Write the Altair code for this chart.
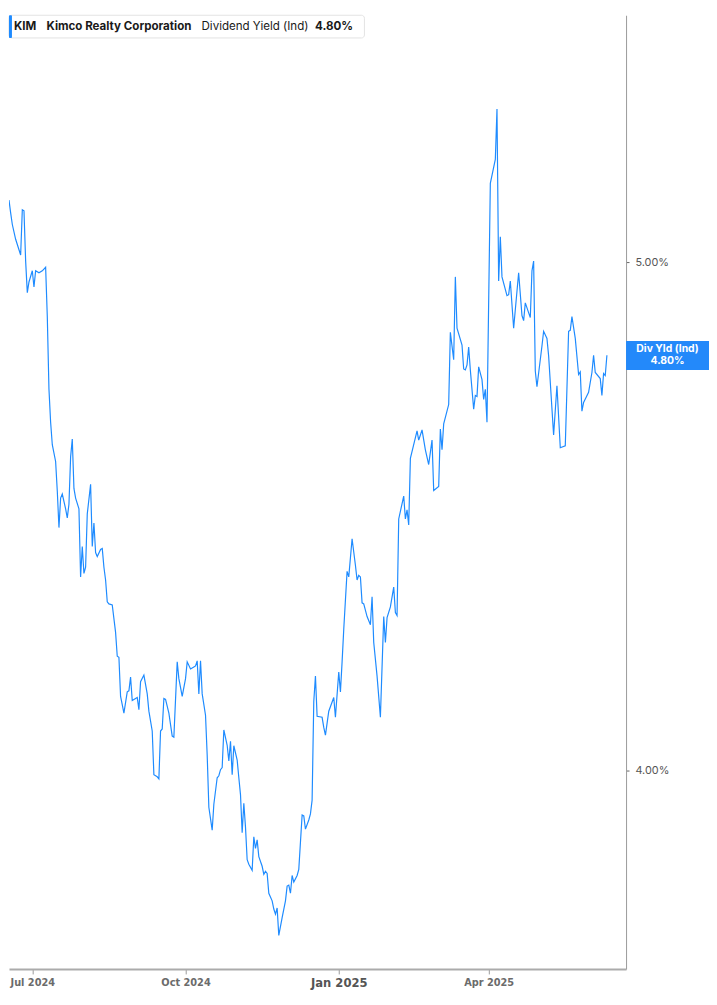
import altair as alt
import pandas as pd

# ---- data ----
dates = [
    "2024-06-17", "2024-06-18", "2024-06-19", "2024-06-21", "2024-06-24", "2024-06-25", "2024-06-26",
    "2024-06-27", "2024-06-28", "2024-06-29",
    "2024-07-01", "2024-07-02", "2024-07-03", "2024-07-05", "2024-07-07", "2024-07-09", "2024-07-10",
    "2024-07-11", "2024-07-12", "2024-07-13", "2024-07-15", "2024-07-16", "2024-07-17", "2024-07-18",
    "2024-07-19", "2024-07-21", "2024-07-22", "2024-07-23", "2024-07-24", "2024-07-25", "2024-07-26",
    "2024-07-27", "2024-07-29", "2024-07-30", "2024-07-31",
    "2024-08-01", "2024-08-02", "2024-08-03", "2024-08-05", "2024-08-06", "2024-08-07", "2024-08-08",
    "2024-08-09", "2024-08-11", "2024-08-12", "2024-08-13", "2024-08-14", "2024-08-15", "2024-08-16",
    "2024-08-18", "2024-08-20", "2024-08-21", "2024-08-22", "2024-08-23", "2024-08-24", "2024-08-25",
    "2024-08-27", "2024-08-28", "2024-08-29", "2024-08-30", "2024-08-31",
    "2024-09-02", "2024-09-03", "2024-09-04", "2024-09-06", "2024-09-08", "2024-09-09", "2024-09-11",
    "2024-09-12", "2024-09-14", "2024-09-15", "2024-09-16", "2024-09-17", "2024-09-18", "2024-09-19",
    "2024-09-21", "2024-09-23", "2024-09-24", "2024-09-26", "2024-09-27", "2024-09-29",
    "2024-10-01", "2024-10-02", "2024-10-04", "2024-10-06", "2024-10-07", "2024-10-08", "2024-10-09",
    "2024-10-10", "2024-10-11", "2024-10-13", "2024-10-14", "2024-10-15", "2024-10-17", "2024-10-18",
    "2024-10-20", "2024-10-21", "2024-10-22", "2024-10-23", "2024-10-24", "2024-10-26", "2024-10-27",
    "2024-10-28", "2024-10-29", "2024-10-30",
    "2024-11-01", "2024-11-02", "2024-11-03", "2024-11-04", "2024-11-05", "2024-11-06", "2024-11-07",
    "2024-11-08", "2024-11-10", "2024-11-11", "2024-11-12", "2024-11-13", "2024-11-14", "2024-11-16",
    "2024-11-17", "2024-11-18", "2024-11-19", "2024-11-20", "2024-11-22", "2024-11-23", "2024-11-24",
    "2024-11-25", "2024-11-26", "2024-11-28", "2024-11-30",
    "2024-12-01", "2024-12-02", "2024-12-03", "2024-12-04", "2024-12-05", "2024-12-07", "2024-12-08",
    "2024-12-10", "2024-12-11", "2024-12-12", "2024-12-14", "2024-12-15", "2024-12-16", "2024-12-17",
    "2024-12-18", "2024-12-19", "2024-12-22", "2024-12-23", "2024-12-24", "2024-12-26", "2024-12-29",
    "2024-12-30",
    "2025-01-01", "2025-01-02", "2025-01-03", "2025-01-04", "2025-01-06", "2025-01-07", "2025-01-09",
    "2025-01-11", "2025-01-12", "2025-01-13", "2025-01-14", "2025-01-15", "2025-01-16", "2025-01-18",
    "2025-01-20", "2025-01-21", "2025-01-22", "2025-01-24", "2025-01-26", "2025-01-28", "2025-01-29",
    "2025-01-30",
    "2025-02-01", "2025-02-03", "2025-02-04", "2025-02-05", "2025-02-06", "2025-02-09", "2025-02-10",
    "2025-02-11", "2025-02-12", "2025-02-13", "2025-02-17", "2025-02-18", "2025-02-20", "2025-02-22",
    "2025-02-24", "2025-02-26", "2025-02-27",
    "2025-03-02", "2025-03-03", "2025-03-04", "2025-03-05", "2025-03-08", "2025-03-09", "2025-03-11",
    "2025-03-12", "2025-03-13", "2025-03-16", "2025-03-17", "2025-03-18", "2025-03-19", "2025-03-20",
    "2025-03-21", "2025-03-23", "2025-03-24", "2025-03-25", "2025-03-26", "2025-03-28", "2025-03-29",
    "2025-03-30", "2025-03-31",
    "2025-04-02", "2025-04-05", "2025-04-06", "2025-04-07", "2025-04-08", "2025-04-09", "2025-04-12",
    "2025-04-13", "2025-04-14", "2025-04-16", "2025-04-19", "2025-04-21", "2025-04-22", "2025-04-23",
    "2025-04-26", "2025-04-27", "2025-04-28", "2025-04-29", "2025-04-30",
    "2025-05-03", "2025-05-04", "2025-05-06", "2025-05-07", "2025-05-10", "2025-05-12", "2025-05-14",
    "2025-05-17", "2025-05-19", "2025-05-20", "2025-05-21", "2025-05-23", "2025-05-25", "2025-05-26",
    "2025-05-27", "2025-05-28", "2025-05-31",
    "2025-06-02", "2025-06-03", "2025-06-04", "2025-06-07", "2025-06-08", "2025-06-09", "2025-06-10",
    "2025-06-11",
]

div_yield = [
    5.122, 5.097, 5.074, 5.045, 5.014, 5.103, 5.101,
    5.002, 4.940, 4.961,
    4.983, 4.951, 4.983, 4.979, 4.983, 4.990, 4.893,
    4.750, 4.685, 4.641, 4.608, 4.550, 4.478, 4.536,
    4.544, 4.515, 4.497, 4.524, 4.617, 4.652, 4.555,
    4.536, 4.515, 4.381, 4.441,
    4.388, 4.400, 4.505, 4.563, 4.441, 4.487, 4.429,
    4.421, 4.435, 4.437, 4.400, 4.375, 4.332, 4.328,
    4.326, 4.272, 4.225, 4.223, 4.146, 4.130, 4.113,
    4.155, 4.157, 4.184, 4.138, 4.140,
    4.144, 4.120, 4.175, 4.188, 4.151, 4.117, 4.078,
    3.992, 3.988, 3.984, 4.078, 4.082, 4.142, 4.140,
    4.113, 4.068, 4.066, 4.214, 4.181, 4.146,
    4.181, 4.214, 4.200, 4.204, 4.206, 4.216, 4.151,
    4.216, 4.151, 4.109, 4.031, 3.928, 3.883, 3.934,
    3.986, 3.990, 4.002, 4.006, 4.080, 4.050, 4.019,
    4.058, 3.992, 4.049,
    4.021, 3.986, 3.953, 3.878, 3.936, 3.889, 3.825,
    3.816, 3.804, 3.870, 3.847, 3.864, 3.831, 3.812,
    3.796, 3.802, 3.798, 3.759, 3.744, 3.728, 3.718,
    3.730, 3.676, 3.711, 3.744,
    3.773, 3.775, 3.759, 3.794, 3.781, 3.794, 3.806,
    3.913, 3.911, 3.885, 3.903, 3.915, 3.942, 4.136,
    4.186, 4.107, 4.105, 4.085, 4.070, 4.117, 4.144,
    4.105,
    4.194, 4.155, 4.214, 4.278, 4.392, 4.381, 4.456,
    4.404, 4.375, 4.384, 4.381, 4.330, 4.328, 4.303,
    4.287, 4.342, 4.252, 4.186, 4.105, 4.303, 4.252,
    4.301,
    4.322, 4.361, 4.311, 4.305, 4.495, 4.540, 4.495,
    4.513, 4.483, 4.614, 4.668, 4.650, 4.670, 4.631,
    4.602, 4.650, 4.551,
    4.559, 4.672, 4.631, 4.682, 4.720, 4.862, 4.808,
    4.971, 4.870, 4.837, 4.790, 4.788, 4.798, 4.833,
    4.788, 4.711, 4.738, 4.736, 4.794, 4.769, 4.730,
    4.750, 4.685,
    5.155, 5.202, 5.301, 4.963, 5.050, 4.971, 4.934,
    4.936, 4.963, 4.870, 4.979, 4.895, 4.885, 4.920,
    4.891, 4.983, 5.002, 4.786, 4.755,
    4.835, 4.864, 4.850, 4.816, 4.660, 4.757, 4.635,
    4.639, 4.864, 4.866, 4.893, 4.850, 4.779, 4.784,
    4.707, 4.724, 4.744,
    4.783, 4.817, 4.783, 4.771, 4.738, 4.781, 4.777,
    4.817,
]

y_ticks = [4.0, 5.0]
ticker = "KIM"
company = "Kimco Realty Corporation"
metric = "Dividend Yield (Ind)"
last_label = "4.80%"
badge_title = "Div Yld (Ind)"

df = pd.DataFrame({"date": dates, "value": div_yield})
last_value = div_yield[-1]
one = pd.DataFrame({"k": [0]})

W, H = 625, 966
BLUE = "#1E8BFF"

x_scale = alt.Scale(
    type="utc",
    domain=[alt.DateTime(year=2024, month=6, date=17, utc=True),
            alt.DateTime(year=2025, month=6, date=22, hours=12, utc=True)],
)
y_scale = alt.Scale(domain=[3.61, 5.4855], zero=False, nice=False)

x_axis = alt.Axis(
    values=[alt.DateTime(year=2024, month=7, date=1, utc=True),
            alt.DateTime(year=2024, month=10, date=1, utc=True),
            alt.DateTime(year=2025, month=1, date=1, utc=True),
            alt.DateTime(year=2025, month=4, date=1, utc=True)],
    labelExpr="utcFormat(datum.value, '%b %Y')",
    title=None, grid=False,
    domainColor="#ababab", domainWidth=2,
    tickColor="#9a9a9a", tickSize=5, tickWidth=1,
    labelFont="'DejaVu Sans Condensed', 'Liberation Sans', sans-serif",
    labelFontWeight="bold",
    labelFontSize={"condition": {"test": "utcmonth(datum.value) == 0", "value": 13}, "value": 11},
    labelColor={"condition": {"test": "utcmonth(datum.value) == 0", "value": "#555555"}, "value": "#6b6b6b"},
    labelPadding=3,
)
y_axis = alt.Axis(
    orient="right", values=y_ticks, title=None, grid=False,
    labelExpr="format(datum.value, '.2f') + '%'",
    domainColor="#9a9a9a", domainWidth=1,
    tickColor="#666666", tickSize=3,
    labelFont="Inter", labelFontSize=11, labelColor="#555555", labelPadding=6,
)

line = alt.Chart(df).mark_line(color=BLUE, strokeWidth=1.2, clip=True).encode(
    x=alt.X("date:T", scale=x_scale, axis=x_axis),
    y=alt.Y("value:Q", scale=y_scale, axis=y_axis),
)

# header legend box
box = alt.Chart(one).mark_rect(
    fill="white", stroke="#e3e3e3", strokeWidth=1, cornerRadius=3
).encode(x=alt.value(0), x2=alt.value(360), y=alt.value(0), y2=alt.value(23))
bar = alt.Chart(one).mark_rect(fill=BLUE, cornerRadius=1).encode(
    x=alt.value(0), x2=alt.value(3), y=alt.value(0), y2=alt.value(23))


def hdr(txt, x, weight):
    return alt.Chart(one).mark_text(
        text=txt, align="left", baseline="middle", font="Inter",
        fontSize=11.7, fontWeight=weight, color="#1a1a1a",
    ).encode(x=alt.value(x), y=alt.value(10.5))


t1 = hdr(ticker, 5, "bold")
t2 = hdr(company, 38, "bold")
t3 = hdr(metric, 195, "normal")
t4 = hdr(last_label, 310, "bold")

# right side value badge
badge = alt.Chart(one).mark_rect(fill="#2389FA").encode(
    x=alt.value(W), x2=alt.value(709),
    y=alt.datum(last_value + 0.028), y2=alt.datum(last_value - 0.029),
)
badge_text = alt.Chart(one).mark_text(
    text=[badge_title, last_label], align="center", baseline="middle", font="Inter",
    fontSize=10.5, fontWeight="bold", color="white", lineHeight=12, dy=-6,
).encode(x=alt.value(667), y=alt.datum(last_value))

chart = alt.layer(line, box, bar, t1, t2, t3, t4, badge, badge_text).properties(
    width=W, height=H, padding=0, background="white",
).configure_view(strokeWidth=0, stroke="transparent")

chart.save("out.html", embed_options={"renderer": "svg", "actions": False})
